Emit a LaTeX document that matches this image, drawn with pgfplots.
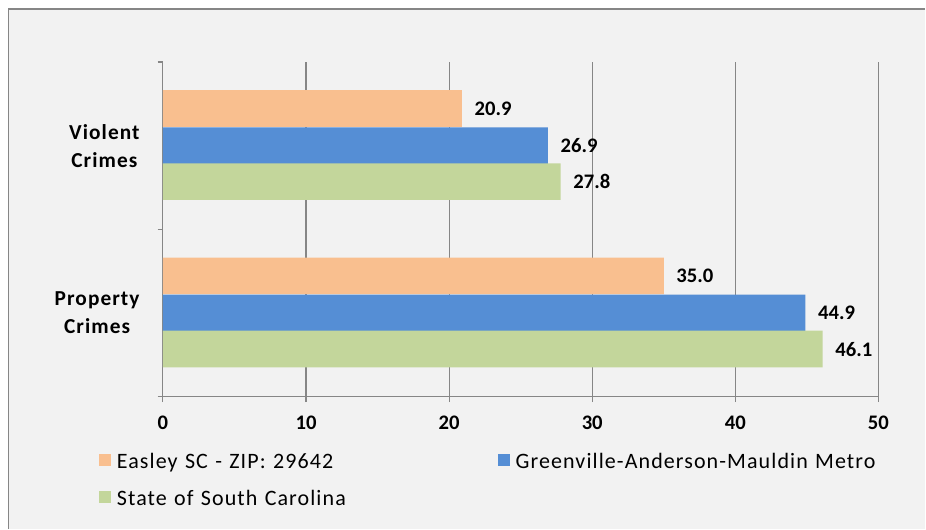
\documentclass[border=0pt]{standalone}
\usepackage{fontspec}
\setmainfont{Carlito}
\newfontfamily\spfam[LetterSpace=5]{Carlito}
\usepackage{pgfplots}
\pgfplotsset{compat=1.18}
\definecolor{cOr}{HTML}{F9BF8F}
\definecolor{cBl}{HTML}{558ED5}
\definecolor{cGr}{HTML}{C3D69B}
\definecolor{cGrid}{HTML}{868686}
\definecolor{cBg}{HTML}{F2F2F2}
\newcommand{\lblfont}{\fontsize{15.5pt}{21pt}\selectfont\bfseries}
\newcommand{\catfont}{\spfam\fontsize{16pt}{21pt}\selectfont\bfseries}
\newcommand{\legfont}{\spfam\fontsize{16.5pt}{20pt}\selectfont}
\begin{document}
\begin{tikzpicture}
\fill[white] (0,0) rectangle (694.5pt,396.75pt);
\fill[cBg] (6.4pt,0) rectangle (694.5pt,390pt);
\draw[cGrid, line width=0.9pt] (6.4pt,0) -- (6.4pt,390pt) -- (694.5pt,390pt);
\begin{axis}[
  at={(122.25pt,99pt)}, anchor=south west,
  scale only axis, width=537pt, height=251.25pt,
  xmin=0, xmax=50, ymin=0, ymax=2,
  xtick={0,10,20,30,40,50},
  xmajorgrids, grid style={cGrid, line width=0.9pt},
  axis x line*=bottom, axis y line*=left,
  axis line style={-, cGrid, line width=0.9pt},
  tick align=outside, major tick length=4pt,
  tick style={cGrid, line width=0.9pt},
  ytick={0,1,2}, yticklabels={,,},
  extra y ticks={0.5,1.5},
  extra y tick labels={{Property\\Crimes},{Violent\\Crimes}},
  extra y tick style={major tick length=0pt, tick style={draw=none},
     yticklabel style={align=center, font=\catfont, xshift=-14pt}},
  xticklabel style={font=\lblfont, yshift=-7pt},
  /pgf/number format/assume math mode=true,
  xbar, bar width=0.219,
  nodes near coords={\pgfmathprintnumber[fixed,fixed zerofill,precision=1,assume math mode=true]{\pgfplotspointmeta}},
  every node near coord/.append style={font=\lblfont, anchor=west, xshift=6pt, text=black},
  point meta=x,
  legend columns=2,
  legend image code/.code={\fill[#1] (0pt,0pt) rectangle (9pt,9pt);},
  legend style={at={(-0.0894,-0.151)}, anchor=north west, draw=none, fill=none,
    inner sep=0pt, outer sep=0pt, font=\legfont,
    nodes={inner sep=0pt, text height=16pt, text depth=12pt},
    /tikz/every odd column/.append style={column sep=4.5pt},
    cells={text width=285.75pt, align=left}},
]
\addplot[fill=cOr, draw=none, bar shift=0.222] coordinates {(35.0,0.5) (20.9,1.5)};
\addlegendentry{Easley SC - ZIP: 29642}
\addplot[fill=cBl, draw=none, bar shift=0.0] coordinates {(44.9,0.5) (26.9,1.5)};
\addlegendentry{Greenville-Anderson-Mauldin Metro}
\addplot[fill=cGr, draw=none, bar shift=-0.215] coordinates {(46.1,0.5) (27.8,1.5)};
\addlegendentry{State of South Carolina}
\end{axis}
\end{tikzpicture}
\end{document}
